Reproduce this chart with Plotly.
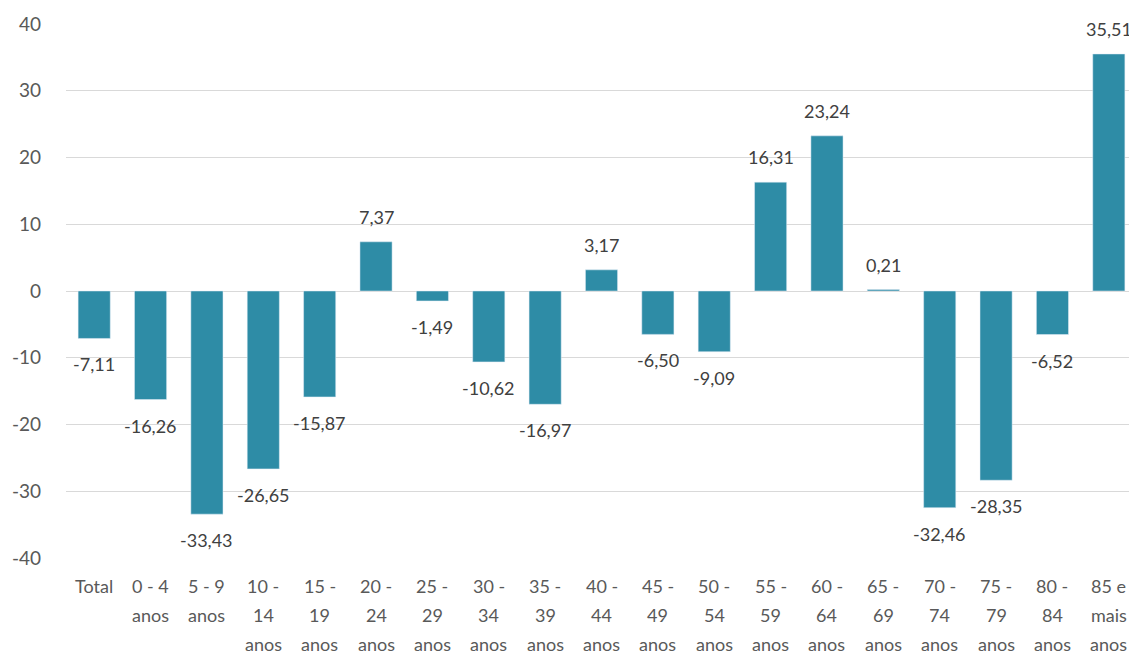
import plotly.graph_objects as go

categories = ["Total", "0 - 4 anos", "5 - 9 anos", "10 - 14 anos", "15 - 19 anos",
              "20 - 24 anos", "25 - 29 anos", "30 - 34 anos", "35 - 39 anos",
              "40 - 44 anos", "45 - 49 anos", "50 - 54 anos", "55 - 59 anos",
              "60 - 64 anos", "65 - 69 anos", "70 - 74 anos", "75 - 79 anos",
              "80 - 84 anos", "85 e mais anos"]
label_lines = [["Total"], ["0 - 4", "anos"], ["5 - 9", "anos"], ["10 -", "14", "anos"],
               ["15 -", "19", "anos"], ["20 -", "24", "anos"], ["25 -", "29", "anos"],
               ["30 -", "34", "anos"], ["35 -", "39", "anos"], ["40 -", "44", "anos"],
               ["45 -", "49", "anos"], ["50 -", "54", "anos"], ["55 -", "59", "anos"],
               ["60 -", "64", "anos"], ["65 -", "69", "anos"], ["70 -", "74", "anos"],
               ["75 -", "79", "anos"], ["80 -", "84", "anos"], ["85 e", "mais", "anos"]]
values = [-7.11, -16.26, -33.43, -26.65, -15.87, 7.37, -1.49, -10.62, -16.97,
          3.17, -6.50, -9.09, 16.31, 23.24, 0.21, -32.46, -28.35, -6.52, 35.51]
y_ticks = [-40, -30, -20, -10, 0, 10, 20, 30, 40]

FONT = "Lato"
TXT = "#595959"

texts = [f"{v:.2f}".replace(".", ",") for v in values]

fig = go.Figure(go.Bar(
    x=categories, y=values, marker_color="#2E8CA6", cliponaxis=False,
))

annotations = []
# data labels
for cat, v, t in zip(categories, values, texts):
    annotations.append(dict(x=cat, xref="x", y=v, yref="y", yanchor="middle",
                            yshift=25 if v >= 0 else -26, text=t, showarrow=False,
                            font=dict(family=FONT, size=18, color="#404040")))
# category labels
for cat, lines in zip(categories, label_lines):
    for k, ln in enumerate(lines):
        annotations.append(dict(x=cat, xref="x", y=0, yref="paper", yanchor="middle",
                                yshift=-(28 + 29 * k), text=ln, showarrow=False,
                                borderpad=0,
                                font=dict(family=FONT, size=18, color=TXT)))

# page body has an 8px offset, so the figure is sized/margined to compensate
fig.update_layout(
    width=1129, height=649, margin=dict(l=58, r=0, t=16, b=99, autoexpand=False),
    plot_bgcolor="white", paper_bgcolor="white", bargap=0.43,
    showlegend=False, annotations=annotations,
    xaxis=dict(showticklabels=False, showgrid=False, zeroline=False, showline=False,
               automargin=False),
    yaxis=dict(range=[-40, 40], tickvals=y_ticks, ticktext=[str(t) for t in y_ticks],
               showgrid=True, gridcolor="#D9D9D9", automargin=False,
               gridwidth=1, zeroline=True, zerolinecolor="#D9D9D9", zerolinewidth=1,
               tickfont=dict(family=FONT, size=19, color=TXT), ticks="", ticklabelstandoff=24),
)
fig.write_html("out.html")
